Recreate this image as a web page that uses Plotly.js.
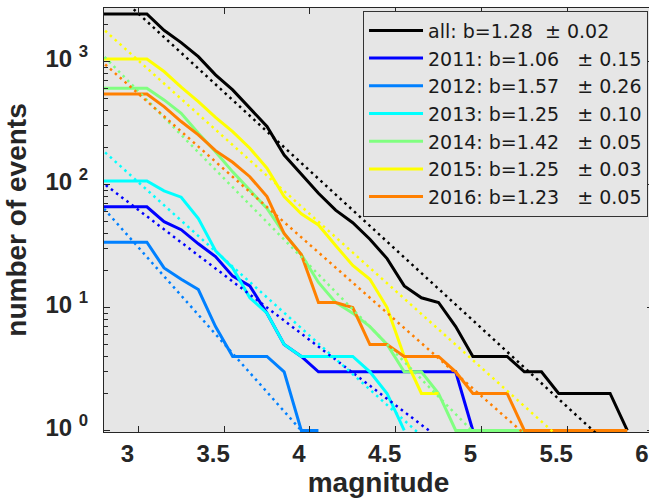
<!DOCTYPE html>
<html>
<head>
<meta charset="utf-8">
<script src="https://cdn.plot.ly/plotly-3.0.1.min.js"></script>
<style>html,body{margin:0;padding:0;overflow:hidden;background:#fff}</style>
</head>
<body>
<div id="chart" style="width:660px;height:504px"></div>
<script>
// magnitude bins (bin centres)
const magnitudes = [2.75, 2.85, 2.95, 3.05, 3.15, 3.25, 3.35, 3.45, 3.55, 3.65, 3.75, 3.85, 3.95, 4.05, 4.15, 4.25,
                    4.35, 4.45, 4.55, 4.65, 4.75, 4.85, 4.95, 5.05, 5.15, 5.25, 5.35, 5.45, 5.55, 5.65, 5.75, 5.85];

const seriesNames = ['all', '2011', '2012', '2013', '2014', '2015', '2016'];
const seriesColors = ['#000000', '#0000ff', '#0080ff', '#00ffff', '#80ff80', '#ffff00', '#ff8000'];

// cumulative number of events (>= M)
const countsAll  = [2450, 2450, 2450, 2450, 1800, 1430, 1100, 782, 590, 421, 297, 174, 122, 85, 62, 49,
                    36, 25, 15, 12, 11, 7, 4, 4, 4, 3, 3, 2, 2, 2, 2, 1];
const counts2011 = [66, 66, 66, 66, 50, 43, 33, 26, 18, 15, 9, 5, 4, 3, 3, 3, 3, 3, 3, 3, 3, 3, 1];
const counts2012 = [34, 34, 34, 34, 21, 17, 14, 7, 4, 4, 4, 3, 1, 1];
const counts2013 = [107, 107, 107, 107, 89, 79, 53, 29, 21, 12, 9, 5, 4, 4, 4, 4, 3, 2, 1];
const counts2014 = [609, 609, 609, 609, 489, 381, 262, 185, 127, 90, 64, 40, 27, 16, 11, 9, 7, 5, 3, 3, 2, 1, 1, 1, 1, 1];
const counts2015 = [1050, 1050, 1050, 1050, 832, 621, 474, 353, 270, 198, 136, 80, 58, 47, 32, 22, 17, 10, 4, 2, 2];
const counts2016 = [547, 547, 547, 547, 431, 326, 254, 189, 152, 116, 80, 40, 27, 11, 11, 10, 5, 5, 4, 4, 4, 3, 2, 2, 2,
                    1, 1, 1, 1, 1, 1, 1];

// Gutenberg-Richter fits: log10 N = a - b M
const bValues = [1.28, 1.06, 1.57, 1.25, 1.42, 1.25, 1.23];
const bErrors = [0.02, 0.15, 0.26, 0.10, 0.05, 0.03, 0.05];
const fitIntercepts = [7.232, 4.975, 6.20, 5.77, 7.02, 6.76, 6.43];
const fitMagRange = [2.75, 6.0];

const xTickVals = [3, 3.5, 4, 4.5, 5, 5.5, 6];
const yTickVals = [1, 10, 100, 1000];
const yTickText = ['10\u00a0<sup>0</sup>', '10\u00a0<sup>1</sup>', '10\u00a0<sup>2</sup>', '10\u00a0<sup>3</sup>'];

const allCounts = [countsAll, counts2011, counts2012, counts2013, counts2014, counts2015, counts2016];

const traces = [];
allCounts.forEach((c, i) => {
  const pad = i === 0 ? '\u00a0\u00a0' : '\u00a0\u00a0\u00a0';
  traces.push({
    type: 'scatter', mode: 'lines',
    x: magnitudes.slice(0, c.length), y: c,
    name: seriesNames[i] + ': b=' + bValues[i].toFixed(2) + pad + '\u00b1\u00a0' + bErrors[i].toFixed(2),
    line: {color: seriesColors[i], width: 3},
    showlegend: true
  });
});
allCounts.forEach((c, i) => {
  traces.push({
    type: 'scatter', mode: 'lines',
    x: fitMagRange,
    y: fitMagRange.map(m => Math.pow(10, fitIntercepts[i] - bValues[i] * m)),
    line: {color: seriesColors[i], width: 2.5, dash: '2.5px,4px'},
    showlegend: false, hoverinfo: 'skip'
  });
});

const tickFont = {family: 'Liberation Sans, Arial, sans-serif', size: 24, color: '#262626', weight: 'bold'};
const titleFont = {family: 'Liberation Sans, Arial, sans-serif', size: 28, color: '#262626', weight: 'bold'};

const layout = {
  width: 660, height: 504,
  margin: {l: 104, r: 7, t: 8, b: 72},
  paper_bgcolor: '#ffffff',
  plot_bgcolor: '#e6e6e6',
  showlegend: true,
  xaxis: {
    range: [2.8, 6.0],
    tickvals: xTickVals,
    ticktext: xTickVals.map(String),
    ticks: 'inside', ticklen: 6, tickwidth: 1, tickcolor: '#262626',
    showline: true, linecolor: '#262626', linewidth: 1, mirror: 'ticks',
    showgrid: false, zeroline: false,
    tickfont: tickFont,
    ticklabelshift: -11,
    ticklabelstandoff: 0,
    title: {text: 'magnitude', font: titleFont, standoff: 6}
  },
  yaxis: {
    type: 'log',
    range: [-0.0125, 3.437],
    tickvals: yTickVals,
    ticktext: yTickText,
    ticks: 'inside', ticklen: 6, tickwidth: 1, tickcolor: '#262626',
    minor: {ticks: 'inside', ticklen: 4, tickcolor: '#262626', dtick: 'D1', showgrid: false},
    showline: true, linecolor: '#262626', linewidth: 1, mirror: 'ticks',
    showgrid: false, zeroline: false,
    tickfont: tickFont,
    ticklabelstandoff: 10,
    ticklabelshift: -3,
    title: {text: 'number of events', font: titleFont, standoff: 10}
  },
  legend: {
    x: 0.4718, y: 0.994, xanchor: 'left', yanchor: 'top',
    xref: 'paper', yref: 'paper',
    bgcolor: '#e6e6e6', bordercolor: '#333333', borderwidth: 1,
    font: {family: 'DejaVu Sans, Liberation Sans, sans-serif', size: 19, color: '#1a1a1a'},
    itemwidth: 54,
    tracegroupgap: 0
  }
};

Plotly.newPlot('chart', traces, layout, {displayModeBar: false, staticPlot: true});
</script>
</body>
</html>
